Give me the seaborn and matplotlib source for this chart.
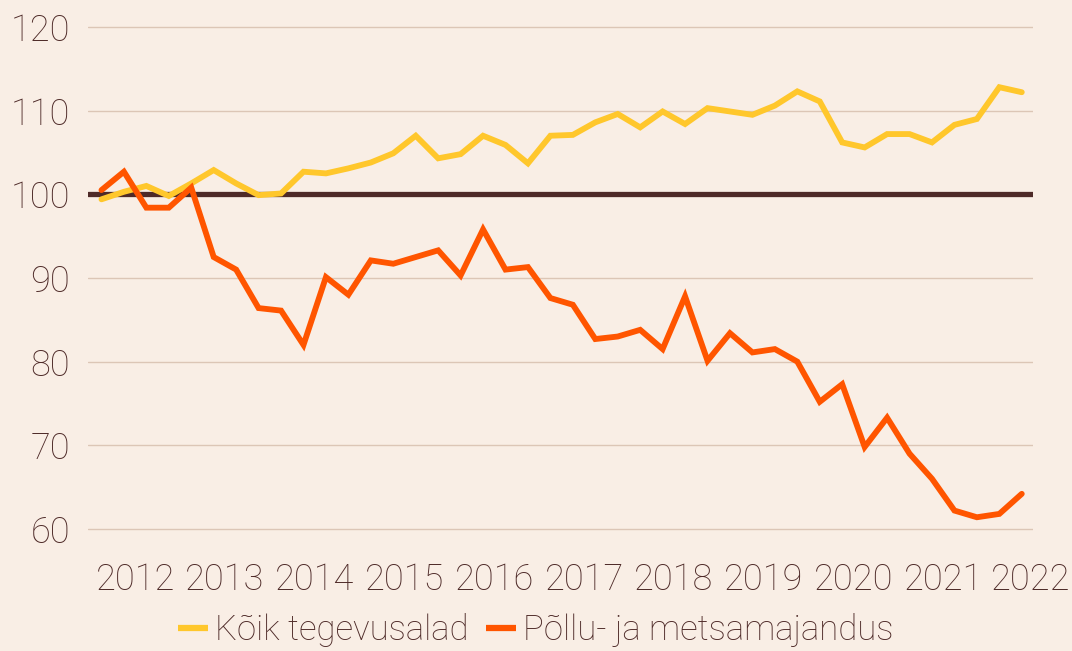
import numpy as np
import pandas as pd
import matplotlib
matplotlib.use("Agg")
import matplotlib.pyplot as plt
import seaborn as sns
from matplotlib.lines import Line2D

years = ["2012", "2013", "2014", "2015", "2016", "2017", "2018", "2019", "2020", "2021", "2022"]
series_names = ["Kõik tegevusalad", "Põllu- ja metsamajandus"]

koik = [99.4, 100.3, 101.0, 99.8, 101.3, 102.9, 101.3, 99.9, 100.1, 102.7,
        102.5, 103.1, 103.8, 104.9, 107.0, 104.3, 104.8, 107.0, 105.9, 103.7,
        107.0, 107.1, 108.6, 109.6, 108.0, 109.9, 108.4, 110.3, 109.9, 109.5,
        110.6, 112.3, 111.1, 106.2, 105.6, 107.2, 107.2, 106.2, 108.3, 109.0,
        112.8, 112.2]
pollu = [100.5, 102.7, 98.4, 98.4, 100.8, 92.5, 91.0, 86.4, 86.1, 82.0,
         90.1, 88.0, 92.1, 91.7, 92.5, 93.3, 90.3, 95.8, 91.0, 91.3,
         87.6, 86.8, 82.7, 83.0, 83.8, 81.5, 87.8, 80.1, 83.4, 81.1,
         81.5, 80.0, 75.2, 77.3, 69.8, 73.3, 69.0, 66.0, 62.2, 61.4,
         61.8, 64.2]
baseline = 100
y_ticks = [60, 70, 80, 90, 100, 110, 120]

bg = "#F9EEE5"
text_c = "#4E2A28"
grid_c = "#DCC6B6"
colors = ["#FFC72C", "#FF5500"]
fs = 26
fs_leg = 25

n = len(koik)
idx = np.arange(n)
df = pd.DataFrame({
    "i": np.concatenate([idx, idx]),
    "v": koik + pollu,
    "s": [series_names[0]] * n + [series_names[1]] * n,
})

sns.set_theme(style="white")
plt.rcParams["font.family"] = ["Roboto", "DejaVu Sans"]
plt.rcParams["font.weight"] = "light"

fig = plt.figure(figsize=(10.72, 6.51), dpi=100, facecolor=bg)
ax = fig.add_axes([88 / 1072, 1 - 545.7 / 651, (1033 - 88) / 1072, (545.7 - 18.6) / 651])
ax.set_facecolor(bg)

for y in y_ticks:
    if y != baseline:
        ax.axhline(y, color=grid_c, lw=1.0, zorder=1)
ax.axhline(baseline, color=text_c, lw=3.8, zorder=2)

sns.lineplot(data=df, x="i", y="v", hue="s", palette=colors, linewidth=4.2,
             legend=False, ax=ax, zorder=3)
for l in ax.lines:
    l.set_solid_joinstyle("miter")

ax.set_xlim(-0.6, 41.5)
ax.set_ylim(58, 121)
ax.set_yticks(y_ticks)
ax.set_yticklabels([str(t) for t in y_ticks])
xt = [min(4 * k + 1.5, n - 0.6) for k in range(len(years))]
ax.set_xticks(xt)
ax.set_xticklabels(years)
ax.tick_params(axis="both", length=0, labelsize=fs, labelcolor=text_c)
ax.tick_params(axis="x", pad=12)
ax.tick_params(axis="y", pad=13)
for lab in ax.get_xticklabels() + ax.get_yticklabels():
    lab.set_fontweight("light")
ax.set_xlabel("")
ax.set_ylabel("")
for sp in ax.spines.values():
    sp.set_visible(False)

handles = [Line2D([0], [0], color=c, lw=4.5, solid_capstyle="butt") for c in colors]
leg = fig.legend(handles, series_names, loc="center", bbox_to_anchor=(0.5, 1 - 630 / 651),
                 ncol=2, frameon=False, handlelength=0.85, borderpad=0.1,
                 handletextpad=0.22, columnspacing=0.5, labelcolor=text_c,
                 prop={"size": fs_leg, "weight": "light"})

fig.savefig("out.png", dpi=100, facecolor=bg)
